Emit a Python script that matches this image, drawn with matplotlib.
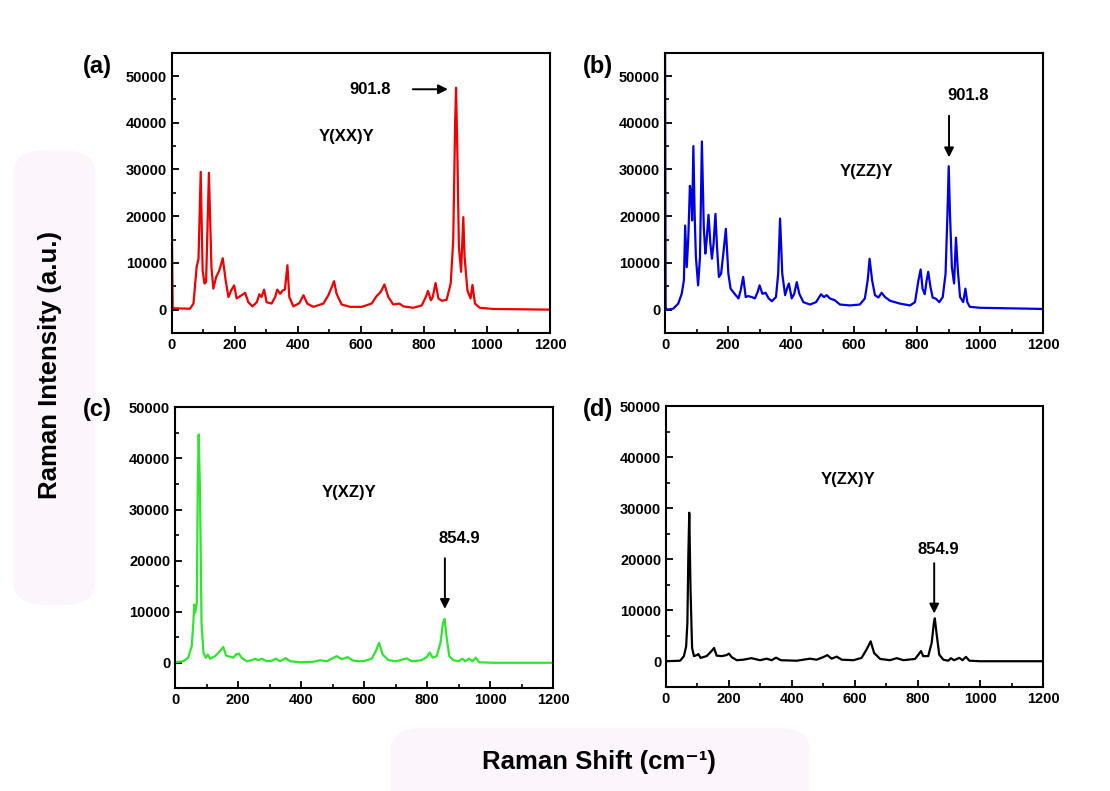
import matplotlib
matplotlib.use('Agg')
import matplotlib.pyplot as plt
from matplotlib.patches import FancyBboxPatch
from matplotlib.ticker import MultipleLocator

plt.rcParams['font.family'] = ['Liberation Sans', 'DejaVu Sans']
plt.rcParams['font.weight'] = 'bold'

# Y(XX)Y spectrum
xx_shift = [0, 3, 58, 69, 79, 85, 92, 98, 104, 109, 118, 126, 132, 141, 151, 162, 171, 180, 190, 198,
            206, 222, 233, 243, 256, 270, 278, 285, 293, 301, 317, 328, 335, 344, 352, 359, 367, 373, 386, 405,
            418, 430, 449, 481, 497, 508, 515, 523, 539, 566, 603, 634, 650, 663, 675, 687, 703, 722, 735, 766,
            793, 806, 813, 822, 828, 837, 846, 857, 872, 885, 893, 899, 902, 906, 911, 918, 925, 929, 938, 948,
            954, 962, 977, 1019, 1200]
xx_int = [21000, 300, 200, 1300, 9100, 10900, 29500, 8400, 5600, 5900, 29300, 9100, 4500, 7000, 8400, 11000, 6300, 2700, 4300, 5200,
          2400, 3100, 3600, 1600, 700, 1600, 3300, 2700, 4300, 1600, 1300, 2700, 4300, 3400, 4100, 4300, 9500, 2700, 700, 1400,
          3100, 1300, 600, 1300, 3100, 4900, 6100, 3400, 1100, 600, 600, 1300, 2900, 3800, 5400, 2700, 1100, 1300, 700, 400,
          900, 2700, 4000, 2000, 2700, 5700, 2400, 1900, 2100, 5600, 14800, 39800, 47500, 34100, 13400, 8100, 19800, 11300, 4100, 2400,
          5300, 1300, 400, 150, 0]

# Y(ZZ)Y spectrum
zz_shift = [0, 2, 5, 26, 42, 53, 60, 64, 69, 74, 79, 83, 86, 90, 94, 98, 105, 111, 117, 123,
            128, 132, 138, 144, 149, 154, 160, 165, 171, 178, 185, 193, 201, 208, 222, 233, 240, 248, 256, 264,
            275, 285, 294, 300, 309, 319, 329, 339, 352, 359, 365, 372, 381, 388, 393, 402, 410, 418, 426, 439,
            460, 479, 495, 504, 513, 523, 539, 555, 587, 618, 634, 643, 649, 657, 666, 677, 687, 698, 714, 745,
            777, 793, 804, 811, 817, 824, 830, 835, 842, 849, 860, 870, 881, 890, 896, 900, 904, 910, 917, 923,
            929, 936, 946, 953, 959, 967, 999, 1200]
zz_int = [60000, 500, 0, 200, 1300, 3400, 6300, 18000, 9100, 15500, 26500, 24800, 19100, 35000, 20500, 11300, 5200, 11300, 36000, 17700,
          12000, 14800, 20300, 14100, 10900, 14100, 20500, 13400, 7000, 7700, 12000, 17300, 7700, 4500, 3300, 2400, 4100, 7000, 2700, 2900,
          2700, 2400, 3800, 5200, 3400, 3600, 2400, 1800, 2700, 7700, 19500, 7700, 3100, 4700, 5600, 2400, 3400, 5900, 3400, 1600,
          1100, 1600, 3300, 2700, 3100, 2400, 2000, 1100, 900, 1100, 2400, 6300, 10900, 6300, 3100, 2600, 3600, 2700, 1900, 1300,
          900, 1600, 6300, 8600, 4500, 3300, 6300, 8100, 4900, 2600, 2300, 1600, 2700, 7700, 20500, 30700, 20500, 9100, 5600, 15400,
          8400, 2700, 1600, 4500, 1600, 600, 400, 150]

# Y(XZ)Y spectrum
xz_shift = [0, 26, 42, 53, 58, 61, 64, 69, 72, 75, 79, 84, 90, 97, 104, 111, 127, 143, 153, 162,
            174, 185, 193, 202, 211, 227, 243, 254, 264, 275, 291, 307, 320, 333, 351, 365, 396, 439, 460, 481,
            497, 513, 529, 547, 566, 597, 624, 637, 647, 659, 677, 703, 724, 735, 751, 782, 798, 808, 817, 830,
            842, 850, 855, 861, 870, 883, 899, 912, 920, 933, 944, 954, 964, 1010, 1200]
xz_int = [100, 300, 1000, 3300, 7800, 11400, 9800, 11700, 33900, 44700, 33900, 7800, 2000, 1000, 1600, 800, 1300, 2300, 3100, 1400,
          1200, 1000, 1600, 1800, 1000, 300, 500, 800, 500, 800, 300, 400, 800, 300, 900, 300, 100, 200, 500, 300,
          800, 1300, 700, 1100, 400, 300, 800, 2300, 3900, 1600, 500, 300, 700, 850, 300, 500, 1100, 2000, 1000, 1300,
          3900, 7800, 8600, 5200, 1300, 500, 300, 800, 300, 800, 300, 1000, 100, 0, 0]

# Y(ZX)Y spectrum
zx_shift = [0, 45, 57, 64, 68, 71, 74, 78, 83, 89, 98, 103, 110, 129, 145, 153, 161, 177, 193, 200,
            209, 225, 246, 272, 299, 320, 336, 350, 365, 416, 458, 479, 500, 513, 527, 543, 559, 596, 622, 638,
            651, 662, 681, 712, 734, 755, 792, 803, 811, 818, 834, 845, 852, 855, 861, 869, 882, 898, 906, 916,
            933, 943, 954, 965, 999, 1200]
zx_int = [0, 100, 1000, 2900, 7500, 20500, 29100, 14000, 2600, 1000, 1200, 1400, 650, 1000, 2000, 2600, 1100, 1000, 1200, 1500,
          800, 200, 300, 600, 200, 500, 200, 700, 200, 100, 500, 300, 800, 1200, 500, 900, 300, 200, 650, 2300,
          3900, 1600, 450, 200, 600, 200, 450, 1300, 2000, 1000, 1000, 3600, 7500, 8400, 5200, 1300, 300, 100, 600, 200,
          650, 200, 850, 100, 0, 0]

panels = [
    # (rect, x, y, colour, letter, mode label, label pos, ylim, peak text, text pos, arrow tail, arrow head)
    ([0.1547, 0.579, 0.3408, 0.3544], xx_shift, xx_int, '#f00000', '(a)', 'Y(XX)Y', (554, 36960),
     (-5000, 55000), '901.8', (629, 47170), (756, 47170), (885, 47170)),
    ([0.5991, 0.579, 0.3408, 0.3544], zz_shift, zz_int, '#0000e6', '(b)', 'Y(ZZ)Y', (640, 29470),
     (-5000, 55000), '901.8', (962, 45900), (901, 42100), (901, 32000)),
    ([0.1577, 0.1298, 0.3408, 0.3552], xz_shift, xz_int, '#2ee62e', '(c)', 'Y(XZ)Y', (553, 33320),
     (-5000, 50000), '854.9', (902, 24410), (856, 21000), (856, 10000)),
    ([0.6, 0.1318, 0.3399, 0.3549], zx_shift, zx_int, 'black', '(d)', 'Y(ZX)Y', (578, 35560),
     (-5000, 50000), '854.9', (866, 21860), (853, 19760), (853, 8800)),
]
letter_pos = [(0.0748, 0.9153), (0.5252, 0.9153), (0.0748, 0.4817), (0.5252, 0.4817)]

fig = plt.figure(figsize=(11.1, 7.91), dpi=100)

# faint pink backdrops behind the axis titles
fig.patches.append(FancyBboxPatch((0.012, 0.235), 0.074, 0.575, boxstyle='round,pad=0,rounding_size=0.03',
                                  transform=fig.transFigure, fc='#fdf5fc', ec='none', zorder=0))
fig.patches.append(FancyBboxPatch((0.352, -0.05), 0.378, 0.13, boxstyle='round,pad=0,rounding_size=0.03',
                                  transform=fig.transFigure, fc='#fdf5fc', ec='none', zorder=0))

for (rect, xs, ys, col, letter, mode, mode_pos, ylim, peak, peak_pos, tail, head), lp in zip(panels, letter_pos):
    ax = fig.add_axes(rect)
    ax.patch.set_alpha(0)
    ax.plot(xs, ys, color=col, lw=1.6)
    ax.set_xlim(0, 1200)
    ax.set_ylim(*ylim)
    ax.xaxis.set_major_locator(MultipleLocator(200))
    ax.xaxis.set_minor_locator(MultipleLocator(100))
    ax.yaxis.set_major_locator(MultipleLocator(10000))
    ax.yaxis.set_minor_locator(MultipleLocator(5000))
    ax.set_yticks(range(0, 50001, 10000))
    ax.tick_params(which='major', direction='in', length=5, width=1.3, labelsize=10.5)
    ax.tick_params(which='minor', direction='in', length=3, width=1.2)
    for lab in ax.get_xticklabels() + ax.get_yticklabels():
        lab.set_fontweight('bold')
    for sp in ax.spines.values():
        sp.set_linewidth(1.5)
    ax.text(*mode_pos, mode, ha='center', va='center', fontsize=12, fontweight='bold')
    ax.text(*peak_pos, peak, ha='center', va='center', fontsize=12, fontweight='bold')
    ax.annotate('', xy=head, xytext=tail,
                arrowprops=dict(arrowstyle='-|>', color='black', lw=1.4, mutation_scale=14))
    fig.text(lp[0], lp[1], letter, ha='left', va='center', fontsize=17, fontweight='bold')

fig.text(0.045, 0.538, 'Raman Intensity (a.u.)', rotation=90, ha='center', va='center',
         fontsize=18.5, fontweight='bold')
fig.text(0.54, 0.037, 'Raman Shift (cm\u207b\u00b9)', ha='center', va='center',
         fontsize=18.5, fontweight='bold')

fig.savefig('out.png', dpi=100)
